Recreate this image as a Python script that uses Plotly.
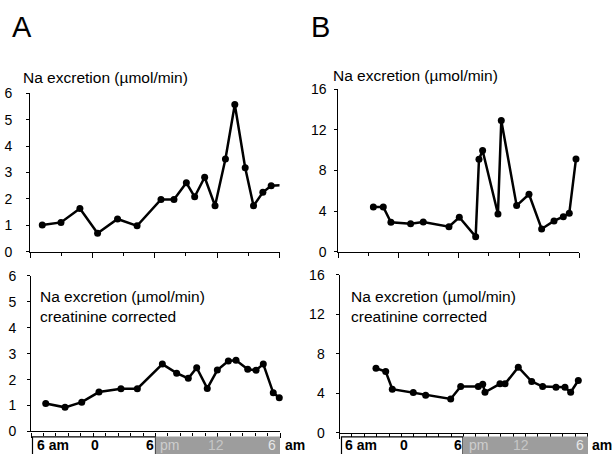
import plotly.graph_objects as go

# ---------------- data (hours after 6 am) ----------------
hours_A_top = [1.18, 2.98, 4.8, 6.5, 8.42, 10.3, 12.6, 13.85, 15.04, 15.84,
               16.8, 17.8, 18.8, 19.7, 20.7, 21.5, 22.4, 23.2, 24.1]
na_A_top = [1.01, 1.11, 1.64, 0.70, 1.24, 0.98, 1.98, 1.98, 2.61, 2.08,
            2.82, 1.74, 3.51, 5.58, 3.18, 1.74, 2.25, 2.50, 2.52]

hours_A_bot = [1.42, 3.28, 4.89, 6.55, 8.67, 10.25, 12.66, 14.04, 15.16, 15.97,
               16.99, 17.96, 19.02, 19.76, 20.89, 21.69, 22.39, 23.35, 23.93]
na_A_bot = [1.08, 0.93, 1.13, 1.52, 1.65, 1.65, 2.60, 2.25, 2.05, 2.46,
            1.66, 2.37, 2.72, 2.75, 2.40, 2.36, 2.60, 1.49, 1.30]

hours_B_top = [3.49, 4.48, 5.24, 7.2, 8.46, 11.02, 12.05, 13.68, 14.01, 14.37,
               15.9, 16.23, 17.76, 18.99, 20.25, 21.48, 22.41, 23.0, 23.67]
na_B_top = [4.41, 4.41, 2.89, 2.76, 2.93, 2.47, 3.39, 1.48, 9.11, 9.97,
            3.72, 12.93, 4.54, 5.66, 2.24, 3.03, 3.45, 3.78, 9.14]

hours_B_bot = [3.53, 4.47, 5.11, 7.14, 8.34, 10.76, 11.73, 13.43, 13.86, 14.08,
               15.53, 16.02, 17.3, 18.6, 19.66, 20.95, 21.82, 22.37, 23.11]
na_B_bot = [6.54, 6.2, 4.41, 4.07, 3.8, 3.42, 4.68, 4.68, 4.92, 4.1,
            4.95, 4.95, 6.64, 5.19, 4.68, 4.61, 4.61, 4.1, 5.29]

yticks_A = [0, 1, 2, 3, 4, 5, 6]
yticks_B = [0, 4, 8, 12, 16]
day_labels = ["6 am", "0", "6"]
night_labels = ["pm", "12", "6"]
end_label = "am"
title_top = "Na excretion (µmol/min)"
title_bot = "Na excretion (µmol/min)<br>creatinine corrected"
panel_letters = ["A", "B"]

# ---------------- layout helpers ----------------
W, H = 612, 454
FONT = "Liberation Sans, Arial, Helvetica, sans-serif"
YSCALE = 0.965  # empirical vertical correction observed in rendering


def px_x(p):
    return p / W


def px_y(s):
    p = H / 2 + (s - H / 2) / YSCALE
    return 1 - p / H


fig = go.Figure()

series = [
    (hours_A_top, na_A_top, "x", "y"),
    (hours_B_top, na_B_top, "x2", "y2"),
    (hours_A_bot, na_A_bot, "x3", "y3"),
    (hours_B_bot, na_B_bot, "x4", "y4"),
]
for xs, ys, xa, ya in series:
    fig.add_trace(go.Scatter(
        x=xs, y=ys, xaxis=xa, yaxis=ya, mode="lines+markers",
        line=dict(color="black", width=2.5),
        marker=dict(color="black", size=7),
        cliponaxis=False, showlegend=False,
    ))

# axis geometry (screen pixels)
geo = {
    # name: (x_left, x_right, y_zero, y_top, ymax, yticks, minor, standoff)
    "1": (30, 279.5, 251.7, 93.3, 6, yticks_A, 3, 11),
    "2": (338.3, 579.3, 251.7, 89.3, 16, yticks_B, 3, 5),
    "3": (31, 280, 431.5, 276, 6, yticks_A, 1.2, 8),
    "4": (339.5, 587.5, 432.7, 275, 16, yticks_B, 1.2, 8),
}

layout_axes = {}
for k, (xl, xr, y0, yt, ymax, ytk, mnr, so) in geo.items():
    suffix = "" if k == "1" else k
    layout_axes["xaxis" + suffix] = dict(
        domain=[px_x(xl), px_x(xr)], range=[0, 24],
        anchor="y" + suffix,
        showline=True, linecolor="black", linewidth=1.3,
        ticks="outside", ticklen=5, tickwidth=1.2, tickcolor="black",
        tick0=0, dtick=6, showticklabels=False,
        showgrid=False, zeroline=False,
        minor=dict(dtick=mnr, tick0=0, ticks="outside", ticklen=3,
                   tickwidth=1, tickcolor="black", showgrid=False),
    )
    layout_axes["yaxis" + suffix] = dict(
        domain=[px_y(y0), px_y(yt)], range=[0, ymax],
        anchor="x" + suffix,
        showline=True, linecolor="black", linewidth=1,
        ticks="outside", ticklen=3, tickwidth=1, tickcolor="black",
        tickvals=ytk, ticklabelstandoff=so,
        tickfont=dict(family=FONT, size=14, color="#000"),
        showgrid=False, zeroline=False,
    )

fig.update_layout(
    width=W, height=H,
    margin=dict(l=0, r=0, t=0, b=0),
    paper_bgcolor="white", plot_bgcolor="rgba(0,0,0,0)",
    showlegend=False,
    font=dict(family=FONT, color="#000"),
    **layout_axes,
)

annotations = []


def label(text, x, y, anchor="left", size=15, color="#000", align="left", weight="normal"):
    annotations.append(dict(
        text=text, xref="paper", yref="paper", x=px_x(x), y=px_y(y),
        xanchor=anchor, yanchor="middle", align=align, showarrow=False,
        font=dict(family=FONT, size=size, color=color, weight=weight)))


# panel letters
label(panel_letters[0], 10, 27, size=29)
label(panel_letters[1], 309, 27, size=29)

# titles
label(title_top, 21, 77, size=15.5)
label(title_top, 331, 75.5, size=15.5)
label(title_bot, 38, 306.5, size=15.5)
label(title_bot, 349, 306.5, size=15.5)

shapes = []
# day/night bars under bottom panels (screen pixels)
bars = [
    # (box_left, split, box_right, day label xs, night label xs, am x)
    (32.5, 155.5, 280, [(35, "left"), (94.5, "center"), (156, "right")],
     [(158, "left"), (216, "center"), (278, "right")], 283),
    (341.5, 463, 588, [(343, "left"), (403.5, "center"), (463.5, "right")],
     [(466.5, "left"), (521, "center"), (586, "right")], 590),
]
night_colors = ["#cdcdcd", "#c6c6c6", "#e6e6e6"]
for bl, sp, br, day_pos, night_pos, am_x in bars:
    shapes.append(dict(type="rect", xref="paper", yref="paper",
                       x0=px_x(bl), x1=px_x(sp), y0=px_y(475), y1=px_y(437),
                       fillcolor="white", line=dict(color="black", width=1.2)))
    shapes.append(dict(type="rect", xref="paper", yref="paper",
                       x0=px_x(sp), x1=px_x(br), y0=px_y(475), y1=px_y(436.5),
                       fillcolor="#9d9d9d", line=dict(width=0)))
    for txt, (xv, anc) in zip(day_labels, day_pos):
        label(txt, xv, 445.5, anchor=anc, size=14, weight="bold")
    for txt, (xv, anc), col in zip(night_labels, night_pos, night_colors):
        label(txt, xv, 445.5, anchor=anc, size=14, color=col)
    label(end_label, am_x, 445.5, size=14, weight="bold")

fig.update_layout(annotations=annotations, shapes=shapes)
fig.write_html(
    "out.html",
    config={"displayModeBar": False},
    post_script="document.body.style.margin='0px';document.body.style.overflow='hidden';",
)
